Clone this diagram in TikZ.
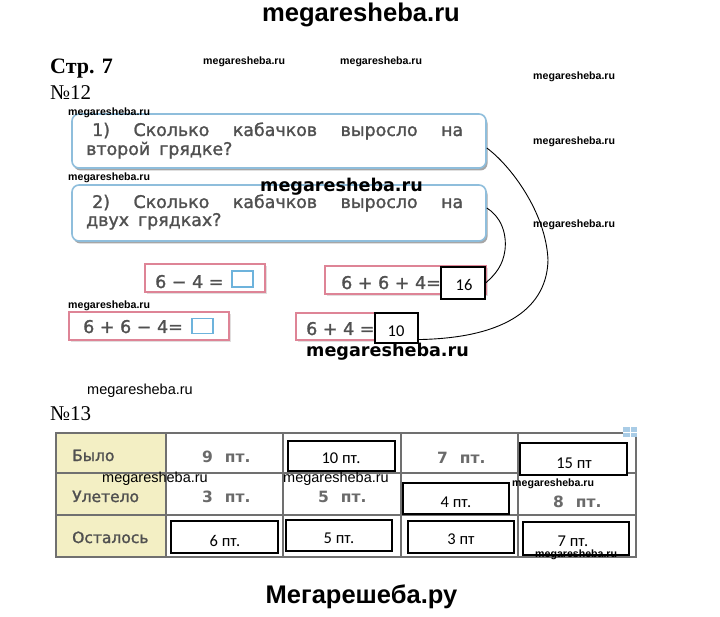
\documentclass[tikz,border=0pt]{standalone}
\usepackage{fontspec}
\setmainfont{Liberation Serif}
\newfontfamily\arial{Liberation Sans}
\newfontfamily\dejavu{DejaVu Sans}
\newfontfamily\dejavum[BoldFont={DejaVu Sans}, BoldFeatures={FakeBold=1.4}]{DejaVu Sans}
\newfontfamily\calib{Carlito}
\usetikzlibrary{calc,shadows}
\definecolor{qblue}{HTML}{8FBEDC}
\definecolor{pinkb}{HTML}{DE8496}
\definecolor{sqblue}{HTML}{6DB3DC}
\definecolor{txtgray}{HTML}{505050}
\definecolor{hdr}{HTML}{F3EFC4}
\definecolor{gridc}{HTML}{707070}
\definecolor{iconblue}{HTML}{A9CCE6}
\begin{document}
\begin{tikzpicture}[x=1pt,y=-1pt,
  wms/.style={font=\arial\bfseries\fontsize{10.6}{12}\selectfont, inner sep=0pt, anchor=west},
  wmr/.style={font=\arial\fontsize{14.5}{17}\selectfont, inner sep=0pt, anchor=west},
  wmb/.style={font=\dejavu\bfseries\fontsize{17.6}{20}\selectfont, inner sep=0pt, anchor=west},
  qbox/.style={draw=qblue, line width=1.6pt, rounded corners=7pt, fill=white, inner sep=0pt,
    drop shadow={shadow xshift=1.5pt, shadow yshift=-2.5pt, fill=black!35, opacity=1}},
  qtext/.style={font=\dejavum\bfseries\fontsize{17.4}{19}\selectfont, text=txtgray, inner sep=0pt, anchor=base west},
  pbox/.style={draw=pinkb, line width=1.5pt, fill=white, inner sep=0pt,
    drop shadow={shadow xshift=2pt, shadow yshift=-2pt, fill=pinkb!25!black!15, opacity=1}},
  etext/.style={font=\dejavum\bfseries\fontsize{17.5}{19}\selectfont, text=txtgray, inner sep=0pt, anchor=base west},
  abox/.style={draw=black, line width=1.1pt, fill=white, inner sep=0pt},
  atext/.style={font=\calib\fontsize{16.5}{18}\selectfont, inner sep=0pt, anchor=base},
  sq/.style={draw=sqblue, line width=1.3pt, inner sep=0pt},
  ttext/.style={font=\dejavum\bfseries\fontsize{15.5}{17}\selectfont, text=txtgray, inner sep=0pt, anchor=base west},
  tval/.style={font=\dejavu\bfseries\fontsize{15.5}{17}\selectfont, text=txtgray!85, inner sep=0pt, anchor=base west},
  conn/.style={line width=0.9pt, black},
  gline/.style={draw=gridc, line width=1.3pt}
]
\useasboundingbox (0,0) rectangle (720,617);
\fill[white] (0,0) rectangle (720,617);

% titles
\node[font=\arial\bfseries\fontsize{25.6}{28}\selectfont, inner sep=0pt] (top) at (361,15) {megaresheba.ru};
\node[font=\arial\bfseries\fontsize{25.5}{28}\selectfont, inner sep=0pt] (bot) at (361.5,597) {Мегарешеба.ру};
\node[font=\bfseries\fontsize{22}{24}\selectfont, inner sep=0pt, anchor=base west] (page) at (50,74) {Стр. 7};
\node[font=\fontsize{21}{23}\selectfont, inner sep=0pt, anchor=base west] (n12) at (50,100) {№12};
\node[font=\fontsize{21}{23}\selectfont, inner sep=0pt, anchor=base west] (n13) at (50,420) {№13};

% question boxes
\node[qbox, minimum width=414pt, minimum height=54pt] (q1) at (279,141) {};
\node[qbox, minimum width=414pt, minimum height=56pt] (q2) at (279,213) {};
\node[qtext] (q1a) at (92,136) {\hbox to 371pt{1)\hfill Сколько\hfill кабачков\hfill выросло\hfill на}};
\node[qtext] (q1b) at (86,155) {второй\hspace{9pt}грядке?};
\node[qtext] (q2a) at (92,208) {\hbox to 371pt{2)\hfill Сколько\hfill кабачков\hfill выросло\hfill на}};
\node[qtext] (q2b) at (86,226) {двух\hspace{9pt}грядках?};

% expressions
\node[pbox, minimum width=120pt, minimum height=28pt] (e1) at (205,278) {};
\node[etext] (e1t) at (155,288) {6 − 4 =};
\node[sq, minimum width=21pt, minimum height=16pt] (s1) at (242.5,279) {};

\node[pbox, minimum width=161pt, minimum height=28pt] (e2) at (405.5,280) {};
\node[etext] (e2t) at (341,289) {6 + 6 + 4=};
\node[abox, minimum width=44pt, minimum height=32pt] (a16) at (463,283) {};
\node[atext] (a16t) at (464,290.5) {16};

\node[pbox, minimum width=160pt, minimum height=28pt] (e3) at (149,326) {};
\node[etext] (e3t) at (83,333) {6 + 6 − 4=};
\node[sq, minimum width=21pt, minimum height=15pt] (s3) at (202.5,326) {};

\node[pbox, minimum width=100pt, minimum height=27pt] (e4) at (346,326.5) {};
\node[etext] (e4t) at (306,335) {6 + 4 =};
\node[abox, minimum width=43pt, minimum height=30pt] (a10) at (396.5,328) {};
\node[atext] (a10t) at (396,337) {10};

% connectors
\draw[conn] ([yshift=-7pt]q1.east) .. controls (510,165) and (546,212) .. (548,260)
  .. controls (547,305) and (510,338) .. ([yshift=4pt]a10.south east);
\draw[conn] ([yshift=5pt]q2.east) .. controls (500,216) and (507,232) .. (505,250)
  .. controls (503,265) and (496,274) .. (a16.east);

% table
\fill[hdr] (56,433) rectangle (166,557);
\draw[gline] (56,433) rectangle (636,557);
\foreach \xx in {166,283,401,518} \draw[gline] (\xx,433) -- (\xx,557);
\foreach \yy in {473,515} \draw[gline] (56,\yy) -- (636,\yy);
\fill[iconblue] (623,427) rectangle (637,437);
\draw[white, line width=0.8pt] (630,427) -- (630,437) (623,432) -- (637,432);

\node[ttext] (l1) at (72,461) {Было};
\node[ttext] (l2) at (72,502) {Улетело};
\node[ttext] (l3) at (72,543) {Осталось};

\node[tval] (v9) at (202,462) {9\hspace{12pt}пт.};
\node[tval] (v3) at (202,502) {3\hspace{12pt}пт.};
\node[tval] (v5) at (318,502) {5\hspace{12pt}пт.};
\node[tval] (v7) at (437,463) {7\hspace{12pt}пт.};
\node[tval] (v8) at (553,507) {8\hspace{12pt}пт.};

\node[abox, minimum width=107pt, minimum height=30pt] (b10) at (341.5,456) {};
\node[abox, minimum width=107pt, minimum height=32pt] (b15) at (573.5,459) {};
\node[abox, minimum width=106pt, minimum height=31pt] (b4) at (456,498.5) {};
\node[abox, minimum width=107pt, minimum height=32pt] (b6) at (224.5,537) {};
\node[abox, minimum width=106pt, minimum height=31pt] (b5) at (339,535.5) {};
\node[abox, minimum width=106pt, minimum height=32pt] (b3) at (461,537) {};
\node[abox, minimum width=106pt, minimum height=33pt] (b7) at (576,538.5) {};

\node[atext] (t10) at (341,463) {10 пт.};
\node[atext] (t15) at (574,468) {15 пт};
\node[atext] (t4) at (456,507) {4 пт.};
\node[atext] (t6) at (225,546) {6 пт.};
\node[atext] (t5) at (339,543) {5 пт.};
\node[atext] (t3) at (461,544) {3 пт};
\node[atext] (t7) at (573,546) {7 пт.};

% watermarks
\node[wms] (w1) at (203,62) {megaresheba.ru};
\node[wms] (w2) at (340,62) {megaresheba.ru};
\node[wms] (w3) at (533,77) {megaresheba.ru};
\node[wms] (w4) at (533,142) {megaresheba.ru};
\node[wms] (w5) at (533,225) {megaresheba.ru};
\node[wms] (w6) at (68,113) {megaresheba.ru};
\node[wms] (w7) at (68,178) {megaresheba.ru};
\node[wms] (w8) at (68,306) {megaresheba.ru};
\node[wms] (w9) at (512,484) {megaresheba.ru};
\node[wms] (w10) at (535,554.5) {megaresheba.ru};
\node[wmr] (w11) at (87,391) {megaresheba.ru};
\node[wmr] (w12) at (102,479) {megaresheba.ru};
\node[wmr] (w13) at (283,479) {megaresheba.ru};
\node[wmb] (w14) at (260,187) {megaresheba.ru};
\node[wmb] (w15) at (306,352) {megaresheba.ru};
\end{tikzpicture}
\end{document}
